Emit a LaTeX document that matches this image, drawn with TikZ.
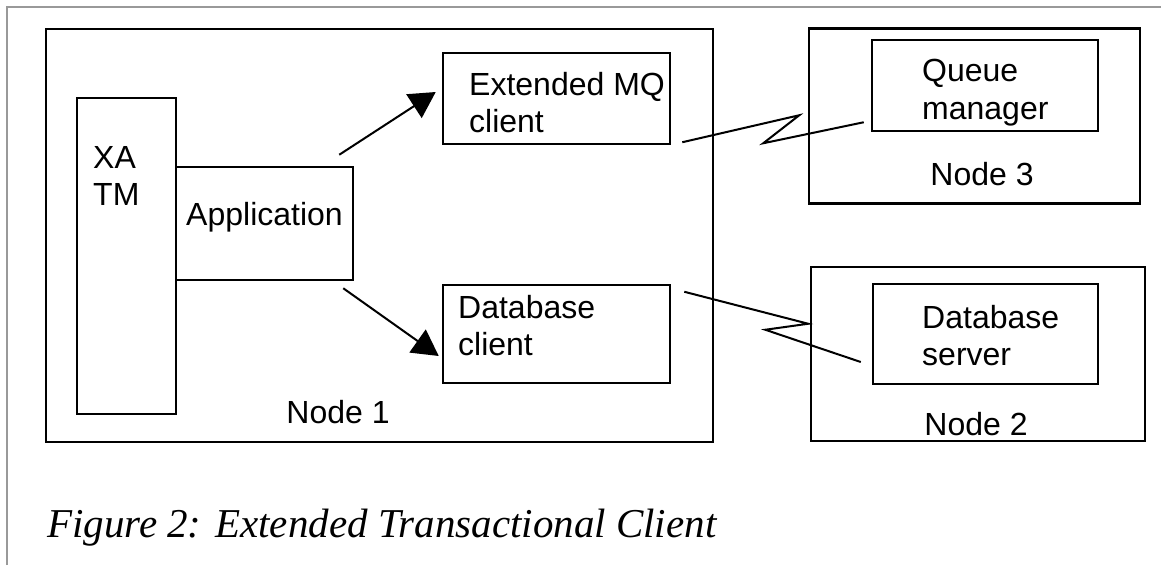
\documentclass[tikz,border=0pt]{standalone}
\usepackage{fontspec}
\setmainfont{Liberation Sans}
\newfontfamily\capfont{Liberation Serif}
\usetikzlibrary{arrows.meta, positioning, calc}
\tikzset{
    box/.style={draw, line width=2.5pt, inner sep=0pt},
    txt/.style={inner sep=0pt, align=left, font=\fontsize{32}{37.5}\selectfont},
    flow/.style={-{Triangle[length=26pt, width=28pt]}, line width=2pt},
    link/.style={line width=2pt},
    frame/.style={line width=1.5pt, gray!80}
}

\begin{document}
\begin{tikzpicture}[x=1pt, y=-1pt]
    \useasboundingbox (0,0) rectangle (1161,565);
    % Page frame (top and left only)
    \draw[frame] (7,565) -- (7,7) -- (1161,7);
    % Node 1
    \node[box, minimum width=667pt, minimum height=413pt] (node1) at (379.5,235.5) {};
    \node[box, minimum width=99pt, minimum height=316pt] (xatm) at (126.5,256) {};
    \node[box, minimum width=177pt, minimum height=113pt] (app) at (264.5,223.5) {};
    \node[box, minimum width=227pt, minimum height=91pt] (mq) at (556.5,98.5) {};
    \node[box, minimum width=227pt, minimum height=98pt] (dbc) at (556.5,334) {};
    % Node 3
    \node[box, minimum width=331pt, minimum height=175pt] (node3) at (974.5,116) {};
    \node[box, minimum width=226pt, minimum height=91pt] (qm) at (985,85.5) {};
    % Node 2
    \node[box, minimum width=334pt, minimum height=174pt] (node2) at (978,354) {};
    \node[box, minimum width=225pt, minimum height=100pt] (dbs) at (985.5,334) {};
    % Texts
    \node[txt, anchor=north west] (xatmtxt) at (93,146) {XA\\TM};
    \node[txt, anchor=north] (apptxt) at (264.5,202) {Application};
    \node[txt, anchor=north west] (mqtxt) at (469,72) {Extended MQ\\client};
    \node[txt, anchor=north west] (dbctxt) at (458,295) {Database\\client};
    \node[txt, anchor=north west] (qmtxt) at (922,59) {Queue\\manager};
    \node[txt, anchor=north west] (dbstxt) at (922,305) {Database\\server};
    \node[txt, anchor=north] (node1txt) at (338,400) {Node 1};
    \node[txt, anchor=north] (node3txt) at (982,162) {Node 3};
    \node[txt, anchor=north] (node2txt) at (976,412) {Node 2};
    % Calls from the application
    \draw[flow] ($(app.north east)+(-15,-11)$) -- ($(mq.west)+(-6,-6.5)$);
    \draw[flow] ($(app.south east)+(-11,7)$) -- ($(dbc.west)+(-3,22)$);
    % Network links
    \draw[link] ($(mq.south east)+(11,-3)$) -- ++(117,-27) -- ++(-36,28)
        -- ($(qm.south west)+(-7,-10)$);
    \draw[link] ($(dbc.north east)+(13,8)$) -- ++(124,32) -- ++(-43,6)
        -- ($(dbs.west)+(-11,28)$);
    % Caption
    \node[anchor=base west, inner sep=0pt, font=\capfont\itshape\fontsize{41}{48}\selectfont]
        (caption) at (47,537) {Figure 2: Extended Transactional Client};
\end{tikzpicture}
\end{document}
